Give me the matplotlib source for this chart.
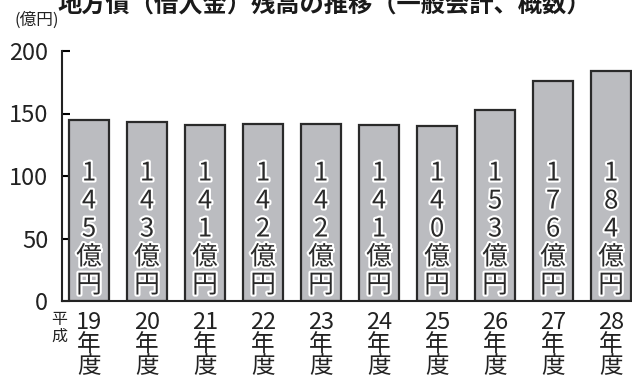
import matplotlib.pyplot as plt
import matplotlib.patheffects as pe

plt.rcParams['font.family'] = ['Noto Sans CJK JP', 'DejaVu Sans']

years = ['19', '20', '21', '22', '23', '24', '25', '26', '27', '28']
debt = [145, 143, 141, 142, 142, 141, 140, 153, 176, 184]
yticks = [0, 50, 100, 150, 200]

fig = plt.figure(figsize=(6.32, 3.85), dpi=100)
ax = fig.add_axes([62 / 632, 84 / 385, 570 / 632, 250 / 385])

x = list(range(len(years)))
ax.bar(x, debt, width=0.69, color='#bbbcc0', edgecolor='#2a2a2a', linewidth=1.6, zorder=2)

# vertical value labels inside each bar
for xi, v in zip(x, debt):
    label = '\n'.join(str(v)) + '\n億\n円'
    ax.text(xi, 2, label, ha='center', va='bottom', fontsize=18.5, color='#2a2a2a',
            linespacing=1.1, zorder=3,
            path_effects=[pe.withStroke(linewidth=3, foreground='white')])

ax.set_xlim(-0.466, 9.36)
ax.set_ylim(0, 200)
ax.set_yticks(yticks)
ax.set_yticklabels([str(t) for t in yticks], fontsize=17, color='#222222')
ax.tick_params(axis='y', direction='in', length=6, width=1.5, pad=10)
ax.set_xticks(x)
ax.set_xticklabels([y + '\n年\n度' for y in years], fontsize=17, color='#222222',
                   linespacing=0.95, va='top')
ax.tick_params(axis='x', length=0, pad=7)

for side in ['top', 'right']:
    ax.spines[side].set_visible(False)
ax.spines['left'].set_linewidth(1.5)
ax.spines['bottom'].set_linewidth(1.5)
ax.spines['left'].set_color('#222222')
ax.spines['bottom'].set_color('#222222')

fig.text(59 / 632, 1 - 311 / 385, '平\n成', fontsize=11.5, ha='center', va='top',
         color='#222222', linespacing=1.0)
fig.text(37 / 632, 1 - 20 / 385, '(億円)', fontsize=12, ha='center', va='center',
         color='#222222')
fig.text(324 / 632, 1 - 5 / 385, '地方債（借入金）残高の推移（一般会計、概数）', fontsize=17.5,
         fontweight='bold', ha='center', va='center', color='#1a1a1a')

fig.savefig('out.png', dpi=100)
